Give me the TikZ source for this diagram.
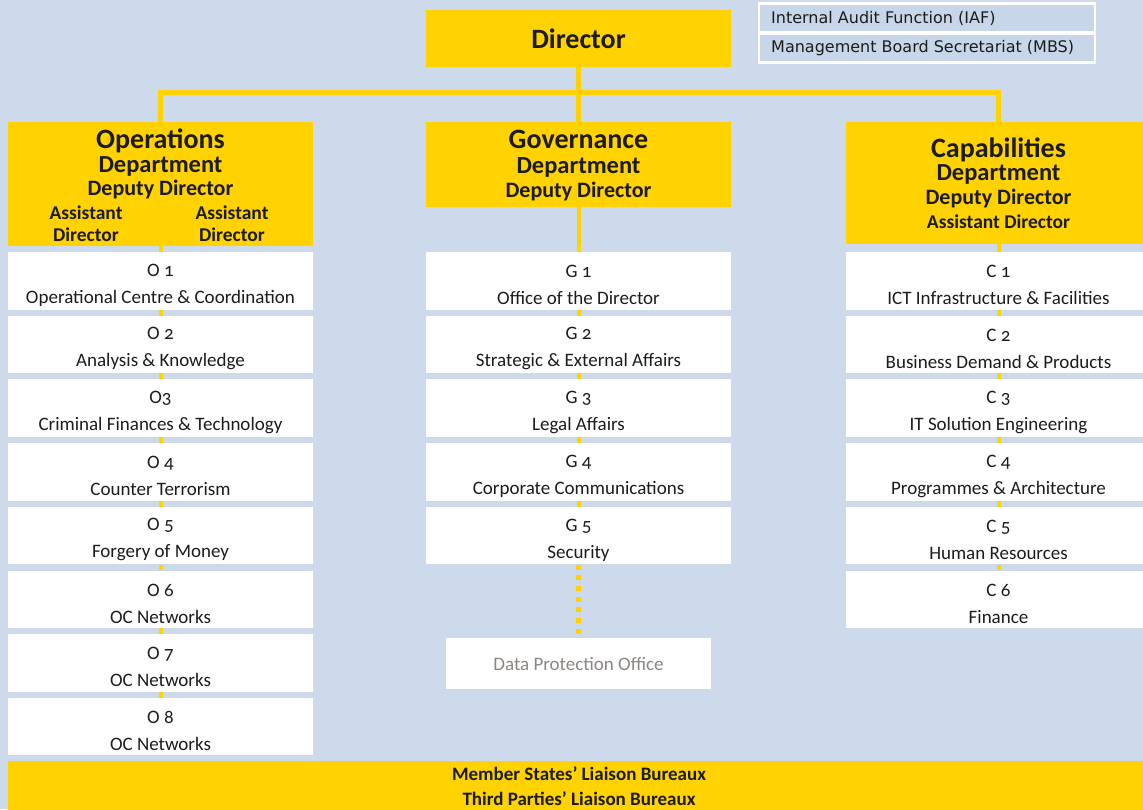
\documentclass[tikz,border=0pt]{standalone}
\usepackage{fontspec}
\setmainfont{Carlito}[Numbers=OldStyle]
\newfontfamily\verd{DejaVu Sans}
\definecolor{bg}{HTML}{CDDAEC}
\definecolor{ybox}{HTML}{FFD200}
\definecolor{ink}{HTML}{1C1C1C}
\definecolor{dpo}{HTML}{8C8682}
\definecolor{iafbg}{HTML}{C8D6EA}
\newcommand{\topstrut}{\rule{0pt}{21pt}}
\tikzset{
  ybox/.style={fill=ybox, inner sep=0pt, minimum width=305pt},
  wbox/.style={fill=white, inner sep=0pt, minimum width=305pt, minimum height=57.5pt,
    align=center, text=ink, font=\fontsize{19}{27}\selectfont},
  conn/.style={draw=ybox, line width=5pt},
  thin conn/.style={draw=ybox, line width=4pt},
  dotconn/.style={draw=ybox, line width=5pt, dash pattern=on 5pt off 5.7pt},
  hd/.style={text=ink, inner sep=0pt, anchor=base, text height=0.68em, text depth=0pt},
  ttl/.style={hd, font=\fontsize{28}{28}\selectfont\bfseries},
  dep/.style={hd, font=\fontsize{24.5}{24.5}\selectfont\bfseries},
  dd/.style={hd, font=\fontsize{22}{22}\selectfont\bfseries},
  ad/.style={hd, font=\fontsize{19.5}{19.5}\selectfont\bfseries},
  side/.style={fill=iafbg, draw=white, line width=2.5pt, minimum width=336pt, minimum height=29pt,
    inner sep=0pt},
  sidetxt/.style={anchor=west, inner sep=0pt, text=ink, font=\verd\fontsize{16}{16}\selectfont},
}
\begin{document}
\begin{tikzpicture}[x=1pt,y=-1pt]
\clip (0,0) rectangle (1143,809);
\fill[bg] (0,0) rectangle (1143,809);

% Director and side boxes
\node[ybox, minimum height=57pt, font=\fontsize{28}{28}\selectfont\bfseries, text=ink] (dir) at (578.5,38.5) {Director};
\node[side] (iaf) at (927,18) {};
\node[side] (mbs) at (927,48) {};
\node[sidetxt] (iafT) at (771,18) {Internal Audit Function (IAF)};
\node[sidetxt] (mbsT) at (771,48) {Management Board Secretariat (MBS)};

% Department heads
\node[ybox, minimum height=124pt] (ops) at (160.5,184) {};
\node[ybox, minimum height=85pt] (gov) at (578.5,164.5) {};
\node[ybox, minimum height=122pt] (cap) at (998.5,183) {};

\node[ttl] (opsA) at (160.5,148) {Operations};
\node[dep] (opsB) at (160.5,172) {Department};
\node[dd]  (opsC) at (160.5,195.5) {Deputy Director};
\node[ad]  (opsD) at (86,219.5) {Assistant};
\node[ad]  (opsE) at (86,241) {Director};
\node[ad]  (opsF) at (232,219.5) {Assistant};
\node[ad]  (opsG) at (232,241) {Director};

\node[ttl] (govA) at (578.5,148.5) {Governance};
\node[dep] (govB) at (578.5,173.5) {Department};
\node[dd]  (govC) at (578.5,197.5) {Deputy Director};

\node[ttl] (capA) at (998.5,157) {Capabilities};
\node[dep] (capB) at (998.5,180.5) {Department};
\node[dd]  (capC) at (998.5,204.5) {Deputy Director};
\node[ad]  (capD) at (998.5,228.5) {Assistant Director};

% Main connectors
\coordinate (bus) at (578.5,92);
\draw[conn] (dir.south) -- (gov.north);
\draw[conn] (ops.north) |- (bus) -| (cap.north);

% Operations units
\foreach \i/\c/\t in {1/{O 1}/{Operational Centre \& Coordination},
                      2/{O 2}/{Analysis \& Knowledge},
                      3/{O3}/{Criminal Finances \& Technology},
                      4/{O 4}/{Counter Terrorism},
                      5/{O 5}/{Forgery of Money},
                      6/{O 6}/{OC Networks},
                      7/{O 7}/{OC Networks},
                      8/{O 8}/{OC Networks}}{
  \node[wbox] (o\i) at (160.5,{252+63.7*(\i-1)+28.75}) {\topstrut\c\\\t};
}
% Governance units
\foreach \i/\c/\t in {1/{G 1}/{Office of the Director},
                      2/{G 2}/{Strategic \& External Affairs},
                      3/{G 3}/{Legal Affairs},
                      4/{G 4}/{Corporate Communications},
                      5/{G 5}/{Security}}{
  \node[wbox] (g\i) at (578.5,{252+63.7*(\i-1)+28.75}) {\topstrut\c\\\t};
}
% Capabilities units
\foreach \i/\c/\t in {1/{C 1}/{ICT Infrastructure \& Facilities},
                      2/{C 2}/{Business Demand \& Products},
                      3/{C 3}/{IT Solution Engineering},
                      4/{C 4}/{Programmes \& Architecture},
                      5/{C 5}/{Human Resources},
                      6/{C 6}/{Finance}}{
  \node[wbox] (c\i) at (998.5,{252+63.7*(\i-1)+28.75}) {\topstrut\c\\\t};
}

% short connectors between stacked units
\draw[thin conn] (ops.south) -- (o1.north);
\draw[thin conn] (gov.south) -- (g1.north);
\draw[thin conn] (cap.south) -- (c1.north);
\foreach \a/\b in {1/2,2/3,3/4,4/5,5/6,6/7,7/8}{ \draw[thin conn] (o\a.south) -- (o\b.north); }
\foreach \a/\b in {1/2,2/3,3/4,4/5}{ \draw[thin conn] (g\a.south) -- (g\b.north); }
\foreach \a/\b in {1/2,2/3,3/4,4/5,5/6}{ \draw[thin conn] (c\a.south) -- (c\b.north); }

% Data Protection Office
\node[fill=white, inner sep=0pt, minimum width=265pt, minimum height=51pt, text=dpo,
      font=\fontsize{19}{19}\selectfont] (dpo) at (578.5,663.5) {Data Protection Office};
\draw[dotconn] (g5.south) -- (dpo.north);

% Liaison bar
\node[fill=ybox, inner sep=0pt, minimum width=1142pt, minimum height=50pt, align=center, text=ink,
      font=\fontsize{19}{25}\selectfont\bfseries] (bar) at (579,786) {Member States’ Liaison Bureaux\\Third Parties’ Liaison Bureaux};
\end{tikzpicture}
\end{document}
